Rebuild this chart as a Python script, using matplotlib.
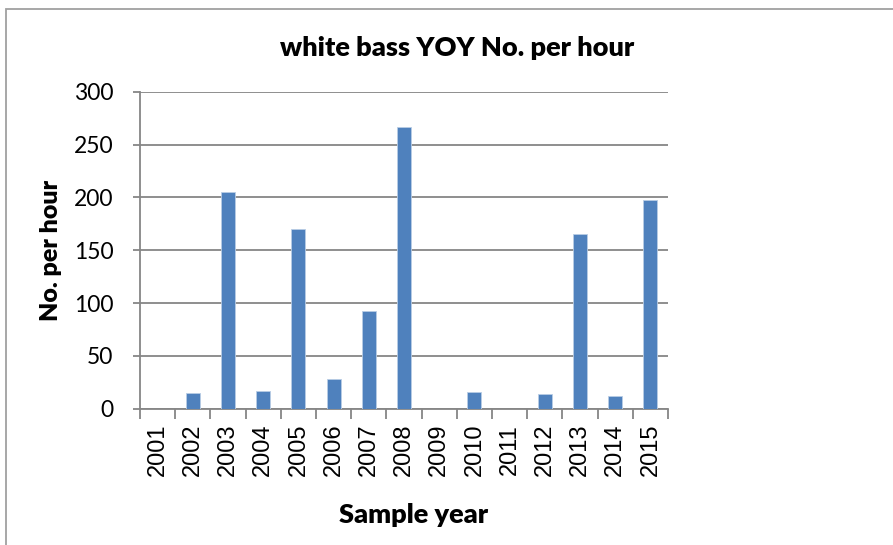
import matplotlib.pyplot as plt
import matplotlib.patches as patches
import numpy as np

years = ['2001', '2002', '2003', '2004', '2005', '2006', '2007', '2008',
         '2009', '2010', '2011', '2012', '2013', '2014', '2015']
per_hour = [0, 14.5, 205.5, 17, 170.5, 28, 92.5, 266.5,
            0, 16, 0, 13.5, 165.5, 11.5, 198]

plt.rcParams['font.family'] = ['Lato', 'DejaVu Sans']

fig = plt.figure(figsize=(8.93, 5.45), dpi=100)
ax = fig.add_axes([140 / 893, 1 - 408.5 / 545, 528 / 893, 316.5 / 545])

x = np.arange(len(years))
ax.bar(x, per_hour, width=0.4, color='#4F81BD', edgecolor='#B9CDE5', linewidth=0.6, zorder=3)

ax.set_xlim(-0.5, len(years) - 0.5)
ax.set_ylim(0, 300)
ax.set_yticks(range(0, 301, 50))
ax.yaxis.grid(True, color='#868686', linewidth=1.3, zorder=0)

ax.set_xticks(x)
ax.set_xticklabels(years, rotation=90, fontsize=17, family='Liberation Sans')
ax.set_xticks(np.arange(-0.5, len(years)), minor=True)
ax.tick_params(axis='x', which='major', length=0, pad=11)
ax.tick_params(axis='x', which='minor', length=7, width=1.3, color='#868686')
ax.tick_params(axis='y', length=5, width=1.3, color='#868686', labelsize=16.5, pad=14)

for side in ['top', 'right']:
    ax.spines[side].set_visible(False)
for side in ['left', 'bottom']:
    ax.spines[side].set_color('#868686')
    ax.spines[side].set_linewidth(1.3)

ax.set_xlabel('Sample year', fontsize=19.5, fontweight='heavy')
ax.set_ylabel('No. per hour', fontsize=18, fontweight='heavy')
ax.xaxis.set_label_coords(0.519, -0.297)
ax.yaxis.set_label_coords(-0.147, 0.5)
fig.text(457 / 893, 1 - 48 / 545, 'white bass YOY No. per hour', fontsize=19.5,
         fontweight='heavy', ha='center', va='center')

# chart frame like the Excel chart area
fig.patches.append(patches.Rectangle((6 / 893, -0.1), 1.1, 1 - 9 / 545 + 0.1,
                                     transform=fig.transFigure, fill=False,
                                     edgecolor='#A0A0A0', linewidth=1.3))

fig.savefig('out.png', dpi=100)
